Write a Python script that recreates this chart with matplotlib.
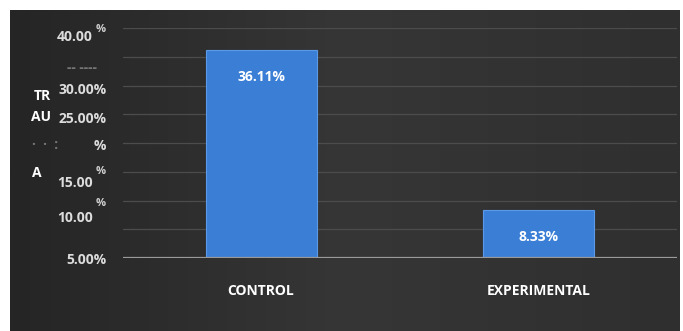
import numpy as np
import matplotlib
matplotlib.use("Agg")
import matplotlib.pyplot as plt
import matplotlib.transforms as mtrans

# ---- data ----
categories = ["CONTROL", "EXPERIMENTAL"]
values = [36.11, 8.33]
value_labels = ["36.11%", "8.33%"]
grid_values = [0, 5, 10, 15, 20, 25, 30, 35, 40]
# tick labels as they appear (shifted) in the scanned reference
ytick_pos = [0, 19.7, 24.5, 29.4]
ytick_labels = ["5.00%", "%", "25.00%", "30.00%"]
# labels whose '%' sign was displaced upward in the scan
split_pos = [38.4, 13.0, 6.9]
split_labels = ["40.00", "15.00", "10.00"]
pct_pos = [39.7, 15.0, 9.4]

W, H = 683, 331
fig = plt.figure(figsize=(W / 100, H / 100), dpi=100, facecolor="white")

# dark gradient background panel
bg = fig.add_axes([10 / W, 0, 670 / W, 1 - 10 / H])
grad = np.linspace(0, 1, 256)[None, :]
bg.imshow(grad, aspect="auto", cmap=matplotlib.colors.LinearSegmentedColormap.from_list(
    "g", ["#252525", "#363636", "#2f2f2f"]), extent=[0, 1, 0, 1])
bg.set_axis_off()

ax = fig.add_axes([123 / W, 1 - 258 / H, (677 - 123) / W, (258 - 28) / H])
ax.set_facecolor("none")
for s in ax.spines.values():
    s.set_visible(False)

for g in grid_values[1:]:
    ax.axhline(g, color="#4c4c4c", lw=0.9, zorder=0)
ax.axhline(0, color="#9a9a9a", lw=1.6, zorder=3)

x = np.arange(len(categories))
bars = ax.bar(x, values, width=0.4, color="#3b7ed6", edgecolor="#5a9ae8",
              linewidth=0.8, zorder=2)
for b, lab in zip(bars, value_labels):
    ax.text(b.get_x() + b.get_width() / 2, b.get_height() - 4.7, lab,
            ha="center", va="center", color="white", fontsize=10,
            fontweight="bold", family="Open Sans")

ax.set_xlim(-0.497, 1.497)
ax.set_ylim(0, 40)
ax.set_xticks(x)
ax.set_xticklabels(categories, color="white", fontsize=10, fontweight="bold",
                   family="Open Sans")
ax.tick_params(axis="x", length=0, pad=19)
ax.set_yticks(ytick_pos)
ax.set_yticklabels(ytick_labels, color="#dcdcdc", fontsize=10, fontweight="bold",
                   family="Open Sans")
ax.tick_params(axis="y", length=0, pad=12)

yax_tr = mtrans.blended_transform_factory(fig.transFigure, ax.transData)
for p, lab in zip(split_pos, split_labels):
    ax.text(93 / W, p, lab, transform=yax_tr, ha="right", va="center",
            color="#dcdcdc", fontsize=10, fontweight="bold", family="Open Sans")
for p in pct_pos:
    ax.text(101 / W, p, "%", transform=yax_tr, ha="center", va="center",
            color="#cfcfcf", fontsize=8, fontweight="bold", family="Open Sans")

# garbled fragments of the scanned y-axis title and a lost label
for txt, xp, yp, c in [("TR", 42, 96, "white"), ("AU", 41, 117, "white"),
                       ("A", 37, 173, "white"), ("·  ·  :", 45, 145, "#777777"),
                       ("-- ----", 82, 68, "#777777")]:
    fig.text(xp / W, 1 - yp / H, txt, color=c, fontsize=10,
             fontweight="bold", family="Open Sans", ha="center", va="center")

fig.savefig("out.png", dpi=100, facecolor="white")
